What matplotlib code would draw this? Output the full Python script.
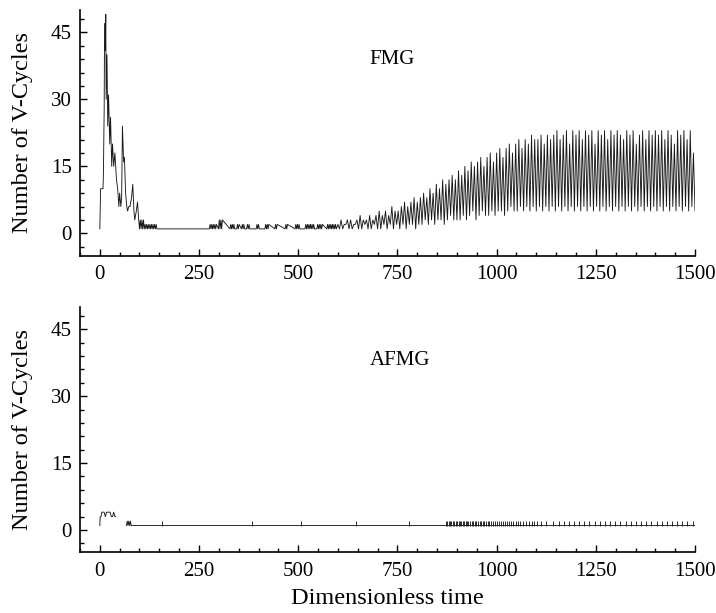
# V-cycle counts per time step, FMG vs AFMG
import numpy as np
import matplotlib.pyplot as plt
from matplotlib.ticker import MultipleLocator

plt.rcParams['font.family'] = ['Liberation Serif', 'DejaVu Serif']

# FMG: start-up transient
fmg_early_t = [0, 2, 8, 9, 11, 12, 14, 15, 16, 18, 20, 22, 25, 27, 30, 32, 35, 38, 42, 45,
               48, 50, 53, 55, 57, 60, 62, 65, 68, 70, 73, 76, 80, 83, 86, 88, 92, 95, 98]
fmg_early_n = [1, 10, 10, 13, 28, 47, 41, 49, 30, 40, 24, 31, 20, 26, 15, 20, 15, 18, 12, 10,
               6, 9, 6, 8, 24, 16, 17, 9, 6, 5, 6, 6, 8, 11, 5, 3, 5, 7, 3]

# FMG: stretches where the count flips between 1 and a higher value (start, end, high)
fmg_blocks = [(100, 112, 3), (112, 145, 2), (276, 296, 2), (299, 310, 3), (328, 341, 2),
              (345, 352, 2), (357, 366, 2), (370, 379, 2), (394, 404, 2), (416, 427, 2),
              (441, 449, 2), (467, 474, 2), (492, 505, 2), (517, 542, 2), (547, 563, 2),
              (572, 597, 2)]

# FMG: oscillating part from t = 600, one peak and one trough per cycle
fmg_osc_start = 600
fmg_osc_period = 8
fmg_peaks = [2, 3, 2, 3, 3, 2, 3, 4, 3, 3, 4, 3, 4,
             5, 4, 5, 4, 6, 5, 5, 6, 7, 6, 7, 8, 7,
             8, 9, 8, 10, 9, 11, 10, 12, 11, 12, 13, 12,
             14, 13, 15, 14, 16, 15, 16, 17, 15, 17, 18, 16, 18,
             19, 17, 19, 20, 18, 20, 21, 19, 21, 20, 22, 21,
             21, 22, 20, 22, 21, 22, 23, 21, 22, 23, 20, 23, 22,
             23, 21, 23, 22, 23, 20, 23, 22, 23, 21, 23, 22,
             23, 22, 21, 23, 22, 23, 20, 22, 23, 21, 23, 22, 23,
             22, 23, 21, 23, 22, 20, 23, 22, 23, 21, 23, 18]
fmg_troughs = [1, 1, 2, 1, 1, 2, 1, 1, 2, 1, 1, 2, 1,
               1, 2, 1, 2, 1, 2, 1, 2, 1, 2, 2, 1, 2,
               2, 3, 2, 3, 2, 3, 3, 2, 3, 4, 3, 3,
               3, 4, 3, 4, 5, 3, 4, 5, 4, 4, 5, 4, 5,
               5, 4, 5, 6, 5, 5, 6, 5, 6, 5, 6, 5,
               6, 5, 6, 5, 6, 5, 6, 5, 6, 5, 6, 5, 6,
               5, 6, 5, 6, 5, 6, 5, 6, 5, 6, 5, 6,
               5, 6, 5, 6, 5, 6, 5, 6, 5, 6, 5, 6, 5,
               6, 5, 6, 5, 6, 5, 6, 5, 6, 5, 6, 5]

# AFMG
afmg_early_t = [0, 1, 3, 5, 8, 11, 14, 17, 20, 23, 26, 29, 32, 35, 38, 40]
afmg_early_n = [1, 3, 3, 4, 4, 4, 3, 4, 4, 4, 4, 3, 3, 4, 3, 3]
afmg_block = (67, 80, 2)
afmg_flat = (80, 1500, 1)
afmg_spikes = [157, 383, 507, 645, 780,
               872, 876, 879, 883, 886, 890, 893, 897, 900, 904, 907, 911, 915, 918, 922,
               926, 929, 933, 937, 941, 945, 949, 953, 957, 961, 965, 969, 973, 978, 982,
               987, 991, 996, 1000, 1005, 1010, 1015, 1020, 1025, 1030, 1036, 1042, 1048,
               1054, 1060, 1067, 1074, 1081, 1088, 1095, 1103, 1113, 1125,
               1143, 1156, 1169, 1182, 1195, 1208, 1221, 1234, 1247, 1260, 1273, 1286,
               1299, 1312, 1325, 1338, 1351, 1364, 1377, 1390, 1403, 1416, 1429, 1442,
               1455, 1468, 1481, 1494]


def block_points(a, b, hi):
    tt = list(range(a, b, 2))
    nn = [hi if k % 2 else 1 for k in range(len(tt))]
    return tt, nn


# build the FMG series
fmg_t = list(fmg_early_t)
fmg_n = list(fmg_early_n)
for a, b, hi in fmg_blocks:
    tt, nn = block_points(a, b, hi)
    fmg_t += tt
    fmg_n += nn
for i, (p, q) in enumerate(zip(fmg_peaks, fmg_troughs)):
    t0 = fmg_osc_start + fmg_osc_period * i
    fmg_t += [t0, t0 + fmg_osc_period / 2]
    fmg_n += [p, q]

# build the AFMG series (gap between the start-up and the first block)
bt, bn = block_points(*afmg_block)
afmg_t = afmg_early_t + [np.nan] + bt + [afmg_flat[0], afmg_flat[1]]
afmg_n = afmg_early_n + [np.nan] + bn + [afmg_flat[2], afmg_flat[2]]

fig = plt.figure(figsize=(7.16, 6.13), dpi=100)
ax1 = fig.add_axes([0.1117, 0.5829, 0.859, 0.4008])
ax2 = fig.add_axes([0.1117, 0.0990, 0.859, 0.4002])

ax1.plot(fmg_t, fmg_n, color='0.1', lw=0.65)
ax2.plot(afmg_t, afmg_n, color='0.1', lw=0.65)
ax2.vlines(afmg_spikes, 1, 2, color='0.1', lw=0.65)

ax1.text(680, 39, 'FMG', fontsize=15, ha='left', va='center')
ax2.text(680, 38, 'AFMG', fontsize=15, ha='left', va='center')

for ax in (ax1, ax2):
    ax.set_xlim(-50, 1500)
    ax.set_ylim(-5, 50)
    ax.spines['top'].set_visible(False)
    ax.spines['right'].set_visible(False)
    ax.spines['left'].set_linewidth(1.2)
    ax.spines['bottom'].set_linewidth(1.2)
    ax.xaxis.set_major_locator(MultipleLocator(250))
    ax.xaxis.set_minor_locator(MultipleLocator(50))
    ax.yaxis.set_major_locator(MultipleLocator(15))
    ax.yaxis.set_minor_locator(MultipleLocator(3))
    ax.tick_params(which='both', direction='in', width=1, labelsize=15)
    ax.tick_params(which='major', length=5)
    ax.tick_params(which='minor', length=3)
    ax.tick_params(axis='x', pad=7)
    ax.tick_params(axis='y', pad=6)
    ax.set_ylabel('Number of V-Cycles', fontsize=17.5)
    ax.yaxis.set_label_coords(-0.076, 0.5)

ax2.set_xlabel('Dimensionless time', fontsize=17.5, labelpad=5)

plt.savefig('out.png', dpi=100)
